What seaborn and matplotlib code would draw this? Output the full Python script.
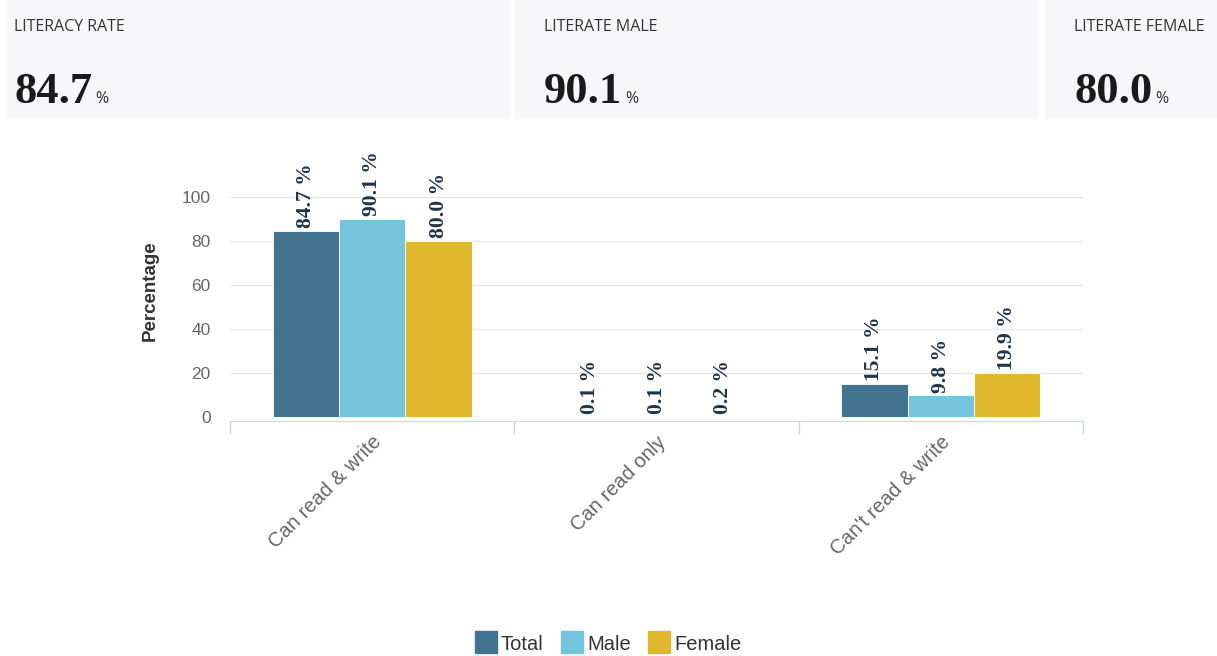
import pandas as pd
import matplotlib.pyplot as plt
import seaborn as sns
from matplotlib.patches import Rectangle
from matplotlib.lines import Line2D

# data
categories = ["Can read & write", "Can read only", "Can't read & write"]
groups = ["Total", "Male", "Female"]
total_vals = [84.7, 0.1, 15.1]
male_vals = [90.1, 0.1, 9.8]
female_vals = [80.0, 0.2, 19.9]
card_titles = ["LITERACY RATE", "LITERATE MALE", "LITERATE FEMALE"]
card_values = [total_vals[0], male_vals[0], female_vals[0]]
colors = ["#43748f", "#75c4de", "#e0b82e"]

df = pd.DataFrame({
    "Category": categories * 3,
    "Group": [g for g in groups for _ in categories],
    "Value": total_vals + male_vals + female_vals,
})

sns.set_style("white")
plt.rcParams["font.family"] = ["Liberation Sans", "DejaVu Sans"]

W, H = 1217, 656
fig = plt.figure(figsize=(W / 100, H / 100), dpi=100)

# summary cards on top
cards = [(7, 510, 14), (514, 1038, 544), (1045, 1217, 1074)]
for (x0, x1, tx), title, val in zip(cards, card_titles, card_values):
    fig.patches.append(Rectangle((x0 / W, 1 - 118 / H), (x1 - x0) / W, 118 / H,
                                 transform=fig.transFigure, color="#f7f7fa", zorder=0))
    fig.text(tx / W, 1 - 27 / H, title, family="Open Sans", fontsize=11.5,
             color="#333333", va="center", ha="left")
    t = fig.text(tx / W, 1 - 103 / H, f"{val:.1f}", family="Liberation Serif",
                 fontweight="bold", fontsize=32, color="#1a1a1a", va="baseline", ha="left")
    fig.canvas.draw()
    bb = t.get_window_extent()
    fig.text((bb.x1 + 3) / W, 1 - 103 / H, "%", family="Open Sans", fontsize=11.5,
             color="#333333", va="baseline", ha="left")

# bar chart
ax = fig.add_axes([230 / W, 1 - 417 / H, (1083 - 230) / W, 220 / H])
sns.barplot(data=df, x="Category", y="Value", hue="Group", hue_order=groups,
            order=categories, palette=colors, width=0.7, saturation=1,
            edgecolor="white", linewidth=0.6, ax=ax, legend=False, zorder=3)

for cont in ax.containers:
    ax.bar_label(cont, fmt="{:.1f} %", rotation=90, padding=2, fontsize=15.5,
                 family="Liberation Serif", fontweight="bold", color="#1f3447",
                 clip_on=False)

ax.set_ylim(0, 100)
ax.set_xlim(-0.5, 2.5)
ax.set_yticks([0, 20, 40, 60, 80, 100])
ax.yaxis.grid(True, color="#e6e6e6", linewidth=1, zorder=0)
ax.set_axisbelow(True)
for s in ["top", "right", "left"]:
    ax.spines[s].set_visible(False)
ax.spines["bottom"].set_color("#d0d6e0")
ax.spines["bottom"].set_position(("outward", 3))
ax.tick_params(axis="y", length=0, pad=14, labelsize=12.5, labelcolor="#666666")
ax.set_xticks([-0.5, 0.5, 1.5, 2.5], minor=True)
ax.tick_params(axis="x", which="minor", bottom=True, length=9, width=1, color="#d0d6e0")
ax.tick_params(axis="x", which="major", length=0, pad=8, labelsize=14.5, labelcolor="#666666")
for lab in ax.get_xticklabels():
    lab.set_rotation(45)
    lab.set_ha("right")
    lab.set_rotation_mode("anchor")
ax.set_xlabel("")
ax.set_ylabel("Percentage", fontsize=13.5, fontweight="bold", color="#333333")
ax.yaxis.set_label_coords(-0.084, 0.575)

# legend
handles = [Line2D([], [], marker="s", markersize=16, linestyle="none",
                  markerfacecolor=c, markeredgecolor=c, label=g)
           for g, c in zip(groups, colors)]
fig.legend(handles=handles, loc="center", bbox_to_anchor=(0.5, 1 - 644 / H), ncol=3,
           frameon=False, fontsize=14.5, labelcolor="#333333", handlelength=1.0,
           handletextpad=0.25, columnspacing=0.9)

fig.savefig("out.png", dpi=100, facecolor="white")
